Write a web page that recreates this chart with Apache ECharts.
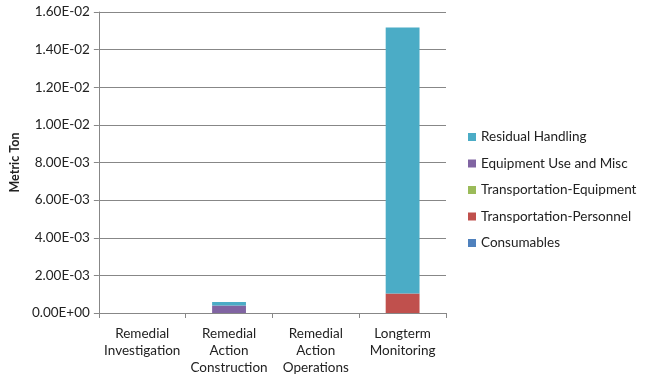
<!DOCTYPE html>
<html><head><meta charset="utf-8">
<script src="https://cdn.jsdelivr.net/npm/echarts@6/dist/echarts.min.js"></script>
<style>html,body{margin:0;padding:0;background:#fff}#c{width:648px;height:377px}</style>
</head><body><div id="c"></div>
<script>
const categories = ['Remedial\nInvestigation', 'Remedial\nAction\nConstruction', 'Remedial\nAction\nOperations', 'Longterm\nMonitoring'];
const consumables = [0, 0, 0, 0];
const transportationPersonnel = [0, 0, 0, 1.03e-3];
const transportationEquipment = [0, 0, 0, 0];
const equipmentUseMisc = [0, 4.0e-4, 0, 0];
const residualHandling = [0, 1.8e-4, 0, 1.415e-2];
const legendOrder = ['Residual Handling', 'Equipment Use and Misc', 'Transportation-Equipment', 'Transportation-Personnel', 'Consumables'];

function fmt(v) {
  let s = Number(v).toExponential(2).toUpperCase();
  return s.replace(/E([+-])(\d)$/, 'E$10$2');
}
const font = 'Lato, "Open Sans", sans-serif';
const fs = 13.5;
const axisColor = '#878787';
const chart = echarts.init(document.getElementById('c'), null, {renderer: 'canvas'});
const mk = (name, data, color) => ({name, type: 'bar', stack: 'a', data, barWidth: '39%', itemStyle: {color}});
chart.setOption({
  animation: false,
  textStyle: {fontFamily: font},
  grid: {left: 97, right: 202, top: 12, bottom: 64},
  legend: {
    orient: 'vertical', left: 463, top: 125, itemWidth: 8, itemHeight: 8, itemGap: 12.5,
    icon: 'rect', data: legendOrder,
    textStyle: {fontSize: fs, color: '#222', fontFamily: font, lineHeight: 14}
  },
  xAxis: {
    type: 'category', data: categories,
    axisLine: {lineStyle: {color: axisColor, width: 1}},
    axisTick: {show: true, length: 5, alignWithLabel: false, lineStyle: {color: axisColor}},
    axisLabel: {interval: 0, fontSize: fs, color: '#222', lineHeight: 17, margin: 12, fontFamily: font}
  },
  yAxis: {
    type: 'value', min: 0, max: 0.016, interval: 0.002,
    name: 'Metric Ton', nameLocation: 'middle', nameGap: 74, nameRotate: 90,
    nameTextStyle: {fontSize: 12.5, fontWeight: 'bold', color: '#222', fontFamily: font},
    axisLine: {show: true, lineStyle: {color: axisColor, width: 1}},
    axisTick: {show: true, length: 5, lineStyle: {color: axisColor}},
    splitLine: {show: true, lineStyle: {color: axisColor, width: 1}},
    axisLabel: {formatter: fmt, fontSize: fs, color: '#222', margin: 9, fontFamily: font}
  },
  series: [
    mk('Consumables', consumables, '#4F81BD'),
    mk('Transportation-Personnel', transportationPersonnel, '#C0504D'),
    mk('Transportation-Equipment', transportationEquipment, '#9BBB59'),
    mk('Equipment Use and Misc', equipmentUseMisc, '#8064A2'),
    mk('Residual Handling', residualHandling, '#4BACC6')
  ]
});
</script></body></html>
